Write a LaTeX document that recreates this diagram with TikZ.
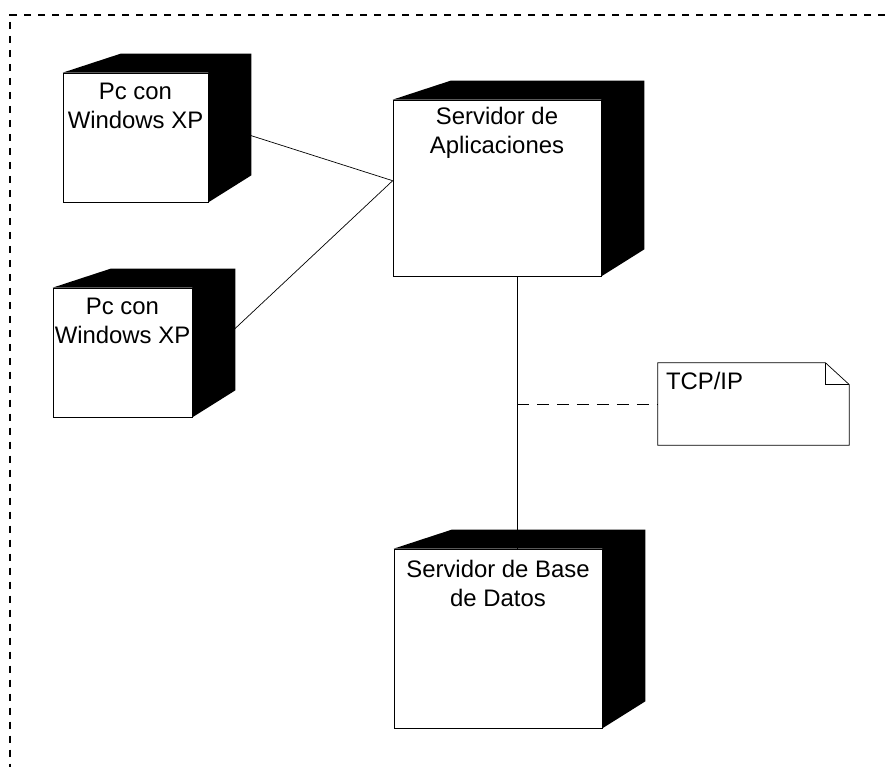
\documentclass[tikz,border=0pt]{standalone}
\usepackage{fontspec}
\setmainfont{Liberation Sans}
\usetikzlibrary{positioning, calc}
\pgfdeclarelayer{fondo}
\pgfsetlayers{fondo,main}

\begin{document}
\begin{tikzpicture}[
				x=0.02cm, y=-0.02cm,
				% Estilos de los nodos
				nodo/.style={draw=black, fill=white, thin, inner sep=0pt, minimum height=2.58cm},
				texto/.style={font=\fontsize{13.6}{16.5}\selectfont, align=center, inner sep=0pt, anchor=north},
				nota/.style={inner sep=0pt, minimum width=3.82cm, minimum height=1.64cm},
				linea/.style={thin, black},
				lineaNota/.style={thin, black, dash pattern=on 0.24cm off 0.16cm},
				marco/.style={line width=1.5pt, dash pattern=on 0.15cm off 0.13cm},
				]
				
				\useasboundingbox (0,0) rectangle (885,767);
				\draw[marco] (885,15) -- (10,15) -- (10,767);
				
				
				\node[nodo, minimum width=2.9cm] (pcUno) at (135.5,137.5) {};
				\node[nodo, minimum width=2.78cm] (pcDos) at (122.5,352.5) {};
				\node[nodo, minimum width=4.16cm, minimum height=3.52cm] (servApp) at (497,188) {};
				\node[nodo, minimum width=4.16cm, minimum height=3.58cm] (servBD) at (498,638.5) {};
				\node[nota] (notaTCP) at (753.5,404) {};
				
				
				\foreach \n in {pcUno, pcDos, servApp, servBD}
				\fill[black] (\n.north west) -- ++(58,-19) -- ([shift={(43,-19)}]\n.north east)
				-- ([shift={(43,-27)}]\n.south east) -- (\n.south east) -- (\n.north east) -- cycle;
				
				
				\node[texto, below=0.2cm of pcUno.north] (pcUnoTxt) {Pc con\\Windows XP};
				\node[texto, below=0.2cm of pcDos.north] (pcDosTxt) {Pc con\\Windows XP};
				\node[texto, below=0.14cm of servApp.north] (servAppTxt) {Servidor de\\Aplicaciones};
				\node[texto, below=0.22cm of servBD.north] (servBDTxt) {Servidor de Base\\de Datos};
				
				
				% Nota
				\draw[linea] (notaTCP.north west) -- ([shift={(-24,0)}]notaTCP.north east)
				-- ([shift={(0,22)}]notaTCP.north east) -- (notaTCP.south east) -- (notaTCP.south west) -- cycle;
				\draw[linea] ([shift={(-24,0)}]notaTCP.north east) -- ([shift={(-24,22)}]notaTCP.north east)
				-- ([shift={(0,22)}]notaTCP.north east);
				\node[texto, anchor=north west, align=left] (notaTxt) at ([shift={(8,9)}]notaTCP.north west) {TCP/IP};
				
				
				\coordinate (bajada) at ([shift={(20,0)}]servApp.south);
				\coordinate (cruce) at (bajada |- notaTCP.west);
				
				\begin{pgfonlayer}{fondo}
					\draw[linea] (pcUno.12) -- (servApp.176);
					\draw[linea] (pcDos.-13) -- (servApp.176);
					\draw[linea] (bajada) -- (bajada |- servBD.north);
					\draw[lineaNota] (cruce) -- (notaTCP.west);
				\end{pgfonlayer}
			\end{tikzpicture}
\end{document}
